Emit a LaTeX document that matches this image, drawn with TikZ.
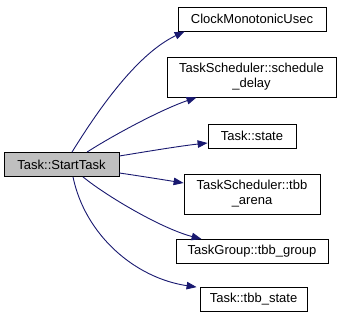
\documentclass[tikz,border=0pt]{standalone}
\usepackage{fontspec}
\setmainfont{Liberation Sans}
\usetikzlibrary{arrows.meta}
\definecolor{edgeblue}{HTML}{191970}
\definecolor{startgray}{HTML}{BFBFBF}
\begin{document}
\begin{tikzpicture}[x=1pt,y=-1pt,
  box/.style={draw=black,line width=0.8pt,fill=white,inner sep=0pt,align=center,
    font=\fontsize{13}{15}\selectfont},
  edge/.style={draw=edgeblue,line width=0.9pt,-{Triangle[length=10pt,width=7.5pt]}}]
\useasboundingbox (0,0) rectangle (341,323);
\node[box,fill=startgray,minimum width=115,minimum height=24] (start) at (61.5,164.5) {Task::StartTask};
\node[box,minimum width=148,minimum height=24] (clock) at (252,19) {ClockMonotonicUsec};
\node[box,minimum width=169,minimum height=40] (sched) at (251.5,77) {TaskScheduler::schedule\\\_delay};
\node[box,minimum width=88,minimum height=24] (state) at (252,136) {Task::state};
\node[box,minimum width=136,minimum height=40] (arena) at (252,194) {TaskScheduler::tbb\\\_arena};
\node[box,minimum width=152,minimum height=24] (group) at (252,251.5) {TaskGroup::tbb\_group};
\node[box,minimum width=107,minimum height=24] (tstate) at (253.5,299.5) {Task::tbb\_state};
\draw[edge] ([xshift=10.5]start.north) .. controls (95,115) and (135,55) .. ([xshift=7]clock.south west);
\draw[edge] ([xshift=25.5]start.north) .. controls (112,136) and (160,110) .. ([xshift=30]sched.south west);
\draw[edge] ([yshift=8.5]start.east) .. controls (150,151) and (180,146) .. ([yshift=-7]state.west);
\draw[edge] ([yshift=-8.5]start.east) .. controls (140,176) and (165,180) .. ([yshift=11]arena.west);
\draw[edge] ([xshift=21.5]start.south) .. controls (105,195) and (160,228) .. ([xshift=26]group.north west);
\draw[edge] ([xshift=11.5]start.south) .. controls (85,235) and (135,278) .. ([xshift=-3]tstate.north west);
\end{tikzpicture}
\end{document}
